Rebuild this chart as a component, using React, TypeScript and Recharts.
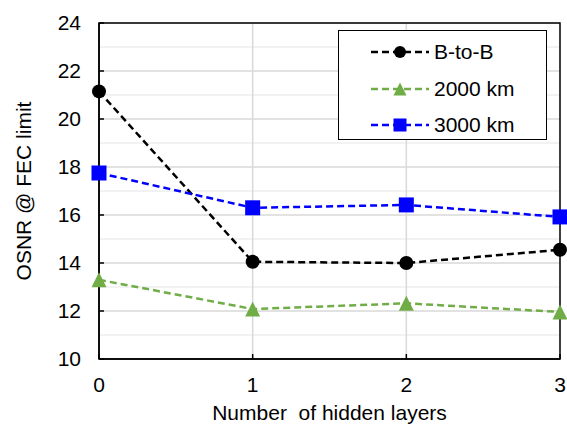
import React from 'react';
import {
  LineChart,
  Line,
  XAxis,
  YAxis,
  CartesianGrid,
  ReferenceArea,
} from 'recharts';

const hiddenLayers = [0, 1, 2, 3];
const backToBack = [21.15, 14.05, 14.0, 14.55];
const km2000 = [13.3, 12.08, 12.32, 11.96];
const km3000 = [17.75, 16.3, 16.42, 15.92];

const yTicks = [10, 12, 14, 16, 18, 20, 22, 24];
const yMinorGrid = [11, 13, 15, 17, 19, 21, 23];
const xGrid = [1, 2];

const FONT = 'Liberation Sans, Arial, sans-serif';
const FS = 21;

const data = hiddenLayers.map((x, i) => ({
  x,
  b2b: backToBack[i],
  km2000: km2000[i],
  km3000: km3000[i],
}));

type Marker = 'circle' | 'triangle' | 'square';

const SERIES: { key: string; name: string; color: string; marker: Marker }[] = [
  { key: 'b2b', name: 'B-to-B', color: '#000000', marker: 'circle' },
  { key: 'km2000', name: '2000 km', color: '#70ad47', marker: 'triangle' },
  { key: 'km3000', name: '3000 km', color: '#0000ff', marker: 'square' },
];

const drawMarker = (marker: Marker, cx: number, cy: number, color: string, s: number, key?: string) => {
  if (marker === 'circle') return <circle key={key} cx={cx} cy={cy} r={s} fill={color} />;
  if (marker === 'square')
    return <rect key={key} x={cx - s} y={cy - s} width={s * 2} height={s * 2} fill={color} />;
  return (
    <polygon
      key={key}
      points={`${cx},${cy - s} ${cx + s},${cy + s} ${cx - s},${cy + s}`}
      fill={color}
    />
  );
};

const makeDot = (marker: Marker, color: string) => (props: any) => {
  const { cx, cy, index } = props;
  if (cx == null || cy == null) return null;
  const s = marker === 'circle' ? 7 : 7.5;
  return drawMarker(marker, cx, cy, color, s, `m-${index}`);
};

// legend drawn as an overlay so it doesn't eat into the plot area
const LegendBox = () => (
  <div
    style={{
      position: 'absolute',
      left: 338,
      top: 30,
      width: 209,
      height: 110,
      boxSizing: 'border-box',
      border: '1.5px solid #000',
      background: '#fff',
      paddingTop: 3,
    }}
  >
    {SERIES.map((s) => (
      <div key={s.key} style={{ display: 'flex', alignItems: 'center', height: 36.5 }}>
        <svg width={62} height={20} style={{ marginLeft: 32 }}>
          <line x1={0} y1={10} x2={58} y2={10} stroke={s.color} strokeWidth={2.5} strokeDasharray="7 4" />
          {drawMarker(s.marker, 29, 10, s.color, s.marker === 'circle' ? 6 : 6.5)}
        </svg>
        <span style={{ fontFamily: FONT, fontSize: FS, color: '#000', marginLeft: 1 }}>{s.name}</span>
      </div>
    ))}
  </div>
);

export default function App() {
  return (
    <div style={{ position: 'absolute', left: 0, top: 0, width: 567, height: 424, background: '#fff' }}>
      <LineChart width={567} height={424} data={data} margin={{ top: 23, right: 7, bottom: 0, left: 0 }}>
        <CartesianGrid horizontalValues={yMinorGrid} vertical={false} stroke="#eeeeee" strokeWidth={1.5} />
        <CartesianGrid horizontalValues={yTicks} verticalValues={xGrid} stroke="#d9d9d9" strokeWidth={1.5} />
        <XAxis
          dataKey="x"
          type="number"
          domain={[0, 3]}
          ticks={hiddenLayers}
          height={65}
          tickSize={-5}
          tickMargin={23}
          axisLine={{ stroke: '#000', strokeWidth: 1.5 }}
          tickLine={{ stroke: '#000', strokeWidth: 1.5 }}
          tick={{ fill: '#000', fontSize: FS, fontFamily: FONT }}
          label={{
            content: (p: any) => {
              const vb = p.viewBox;
              return (
                <text
                  x={vb.x + vb.width / 2}
                  y={vb.y + 61}
                  textAnchor="middle"
                  fontSize={FS}
                  fontFamily={FONT}
                  fill="#000"
                >
                  Number&#160; of hidden layers
                </text>
              );
            },
          }}
        />
        <YAxis
          type="number"
          domain={[10, 24]}
          ticks={yTicks}
          width={99}
          tickSize={-5}
          tickMargin={23}
          allowDataOverflow
          axisLine={{ stroke: '#000', strokeWidth: 1.5 }}
          tickLine={{ stroke: '#000', strokeWidth: 1.5 }}
          tick={{ fill: '#000', fontSize: FS, fontFamily: FONT }}
          label={{
            content: (p: any) => {
              const vb = p.viewBox;
              const cx = vb.x + 23;
              const cy = vb.y + vb.height / 2;
              return (
                <text
                  x={cx}
                  y={cy}
                  transform={`rotate(-90, ${cx}, ${cy})`}
                  textAnchor="middle"
                  dominantBaseline="central"
                  fontSize={FS}
                  fontFamily={FONT}
                  fill="#000"
                >
                  OSNR @ FEC limit
                </text>
              );
            },
          }}
        />
        <ReferenceArea x1={0} x2={3} y1={10} y2={24} fill="none" stroke="#000" strokeWidth={1.5} />
        {SERIES.map((s) => (
          <Line
            key={s.key}
            dataKey={s.key}
            name={s.name}
            stroke={s.color}
            strokeWidth={2.5}
            strokeDasharray="7 4"
            dot={makeDot(s.marker, s.color)}
            activeDot={false}
            isAnimationActive={false}
          />
        ))}
      </LineChart>
      <LegendBox />
    </div>
  );
}
